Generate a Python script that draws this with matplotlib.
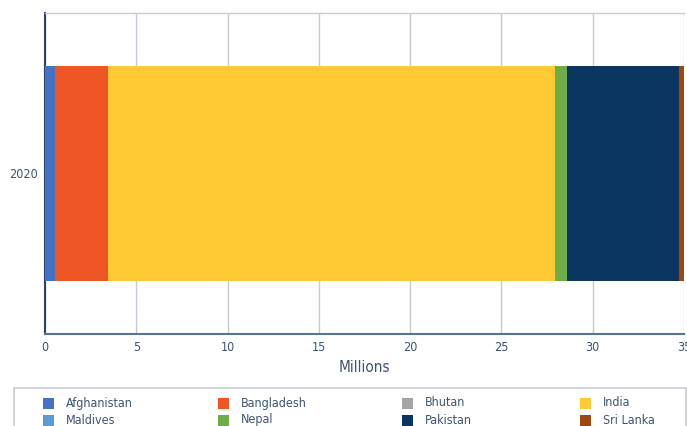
import matplotlib
matplotlib.use("Agg")
from matplotlib import pyplot as plt
from matplotlib.patches import Rectangle

plt.rcParams['font.family'] = ['DejaVu Sans']
plt.rcParams['font.stretch'] = 'condensed'

years = ["2020"]
countries = ["Afghanistan", "Bangladesh", "Bhutan", "India",
             "Maldives", "Nepal", "Pakistan", "Sri Lanka"]
values = [0.55, 2.89, 0.02, 24.5, 0.02, 0.6, 6.13, 0.9]
colors = ["#4472C4", "#EE5626", "#A5A5A5", "#FFCA33",
          "#5B9BD5", "#70AD47", "#0A3560", "#9E480E"]
xticks = [0, 5, 10, 15, 20, 25, 30, 35]

text_col = "#3C5474"
grid_col = "#C3CBD6"

fig = plt.figure(figsize=(6.87, 4.26), dpi=100)
ax = fig.add_axes([45 / 687, 92 / 426, 639 / 687, 321 / 426])

left = 0
for name, val, col in zip(countries, values, colors):
    ax.barh(years, [val], left=left, height=0.67, color=col, label=name, zorder=3)
    left += val

ax.set_xlim(0, 35)
ax.set_ylim(-0.5, 0.5)
ax.set_xticks(xticks)
ax.set_xticklabels([str(t) for t in xticks])
ax.grid(axis="x", color=grid_col, linewidth=1.0, zorder=0)
ax.tick_params(axis="both", length=0, labelsize=9, colors=text_col, pad=5)
ax.set_xlabel("Millions", fontsize=11, color=text_col, labelpad=4)

ax.spines["top"].set_color(grid_col)
ax.spines["top"].set_linewidth(1.0)
ax.spines["right"].set_visible(False)
ax.spines["left"].set_color("#2B4262")
ax.spines["left"].set_linewidth(1.5)
ax.spines["bottom"].set_color("#5B7393")
ax.spines["bottom"].set_linewidth(1.5)

# legend box, clipped by the bottom of the figure
W, H = 687, 426
fig.patches.append(Rectangle((14 / W, -0.05), 672 / W, (H - 388) / H + 0.05,
                             transform=fig.transFigure, facecolor="white",
                             edgecolor="#C8CDD4", linewidth=1.2))
col_x = [43, 218, 402, 580]
row_y = [403, 420]
for i, (name, col) in enumerate(zip(countries, colors)):
    x = col_x[i % 4]
    y = row_y[i // 4]
    fig.patches.append(Rectangle((x / W, (H - y - 6) / H), 11 / W, 11 / H,
                                 transform=fig.transFigure, facecolor=col,
                                 edgecolor="none"))
    fig.text((x + 23) / W, (H - y) / H, name, fontsize=9, color=text_col,
             va="center", ha="left")

fig.savefig("out.png", dpi=100)
